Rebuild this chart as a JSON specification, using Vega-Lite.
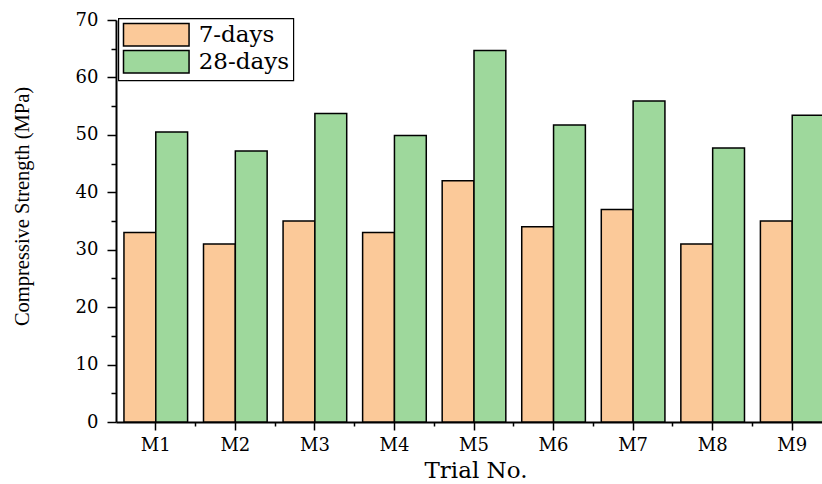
{
  "$schema": "https://vega.github.io/schema/vega-lite/v6.json",
  "width": 706,
  "height": 402,
  "autosize": {"type": "none"},
  "padding": {"left": 116, "top": 20, "right": 0, "bottom": 62},
  "background": "white",
  "config": {"view": {"stroke": null}},
  "data": {
    "values": [
      {"trial": "M1", "age": "7-days", "value": 33},
      {"trial": "M1", "age": "28-days", "value": 50.5},
      {"trial": "M2", "age": "7-days", "value": 31},
      {"trial": "M2", "age": "28-days", "value": 47.2},
      {"trial": "M3", "age": "7-days", "value": 35},
      {"trial": "M3", "age": "28-days", "value": 53.7},
      {"trial": "M4", "age": "7-days", "value": 33},
      {"trial": "M4", "age": "28-days", "value": 49.9},
      {"trial": "M5", "age": "7-days", "value": 42},
      {"trial": "M5", "age": "28-days", "value": 64.7},
      {"trial": "M6", "age": "7-days", "value": 34},
      {"trial": "M6", "age": "28-days", "value": 51.7},
      {"trial": "M7", "age": "7-days", "value": 37},
      {"trial": "M7", "age": "28-days", "value": 55.9},
      {"trial": "M8", "age": "7-days", "value": 31},
      {"trial": "M8", "age": "28-days", "value": 47.7},
      {"trial": "M9", "age": "7-days", "value": 35},
      {"trial": "M9", "age": "28-days", "value": 53.4}
    ]
  },
  "layer": [
    {
      "mark": {"type": "bar", "stroke": "black", "strokeWidth": 1.5},
      "encoding": {
        "x": {
          "field": "trial",
          "type": "nominal",
          "sort": ["M1", "M2", "M3", "M4", "M5", "M6", "M7", "M8", "M9"],
          "scale": {"range": [0, 716], "paddingInner": 0, "paddingOuter": 0},
          "axis": {
            "orient": "bottom",
            "labelAngle": 0,
            "labelFont": "DejaVu Serif",
            "labelFontSize": 18,
            "labelColor": "black",
            "labelPadding": 6,
            "tickSize": 8,
            "tickWidth": 1.5,
            "tickColor": "black",
            "domainColor": "black",
            "domainWidth": 2,
            "grid": false,
            "title": "Trial No.",
            "titleFont": "DejaVu Serif",
            "titleFontSize": 23,
            "titleFontWeight": "normal",
            "titleColor": "black",
            "titleX": 359.5,
            "titleY": 55.5,
            "titleAlign": "center",
            "titleBaseline": "alphabetic"
          }
        },
        "xOffset": {
          "field": "age",
          "type": "nominal",
          "sort": ["7-days", "28-days"],
          "scale": {"paddingInner": 0, "paddingOuter": 0.25}
        },
        "y": {
          "field": "value",
          "type": "quantitative",
          "scale": {"domain": [0, 70], "nice": false},
          "axis": {
            "orient": "left",
            "values": [0, 10, 20, 30, 40, 50, 60, 70],
            "labelFont": "DejaVu Serif",
            "labelFontSize": 18,
            "labelColor": "black",
            "labelPadding": 9,
            "tickSize": 9,
            "tickWidth": 1.5,
            "tickColor": "black",
            "domainColor": "black",
            "domainWidth": 2,
            "grid": false,
            "title": "Compressive Strength (MPa)",
            "titleFont": "Liberation Serif",
            "titleFontSize": 20.5,
            "titleFontWeight": "normal",
            "titleColor": "black",
            "titleAngle": -90,
            "titleX": -88,
            "titleY": 186,
            "titleAlign": "center",
            "titleBaseline": "alphabetic"
          }
        },
        "color": {
          "field": "age",
          "type": "nominal",
          "scale": {"domain": ["7-days", "28-days"], "range": ["#FBC999", "#9ED89C"]},
          "legend": {
            "orient": "none",
            "legendX": 2.3,
            "legendY": -1.7,
            "title": null,
            "padding": 4,
            "strokeColor": "black",
            "fillColor": "white",
            "symbolType": "M-1,-1H4.8V1H-1Z",
            "symbolSize": 511,
            "symbolStrokeColor": "black",
            "symbolStrokeWidth": 1.5,
            "symbolOpacity": 1,
            "labelFont": "DejaVu Serif",
            "labelFontSize": 23,
            "labelColor": "black",
            "labelOffset": 51.4,
            "rowPadding": -3,
            "encode": {
              "legend": {"update": {"strokeWidth": {"value": 1.2}}},
              "symbols": {"update": {"stroke": {"value": "black"}, "strokeWidth": {"value": 1.5}}}
            }
          }
        }
      }
    },
    {
      "mark": {"type": "bar", "opacity": 0},
      "encoding": {
        "x": {
          "field": "trial",
          "type": "nominal",
          "sort": ["M1", "M2", "M3", "M4", "M5", "M6", "M7", "M8", "M9"],
          "axis": {
            "orient": "bottom",
            "bandPosition": 1,
            "labels": false,
            "domain": false,
            "grid": false,
            "title": null,
            "tickSize": 4,
            "tickWidth": 1.5,
            "tickColor": "black"
          }
        },
        "y": {
          "field": "value",
          "type": "quantitative",
          "axis": {
            "orient": "left",
            "values": [5, 15, 25, 35, 45, 55, 65],
            "labels": false,
            "domain": false,
            "grid": false,
            "title": null,
            "tickSize": 5,
            "tickWidth": 1.5,
            "tickColor": "black"
          }
        }
      }
    }
  ],
  "resolve": {"axis": {"x": "independent", "y": "independent"}}
}
